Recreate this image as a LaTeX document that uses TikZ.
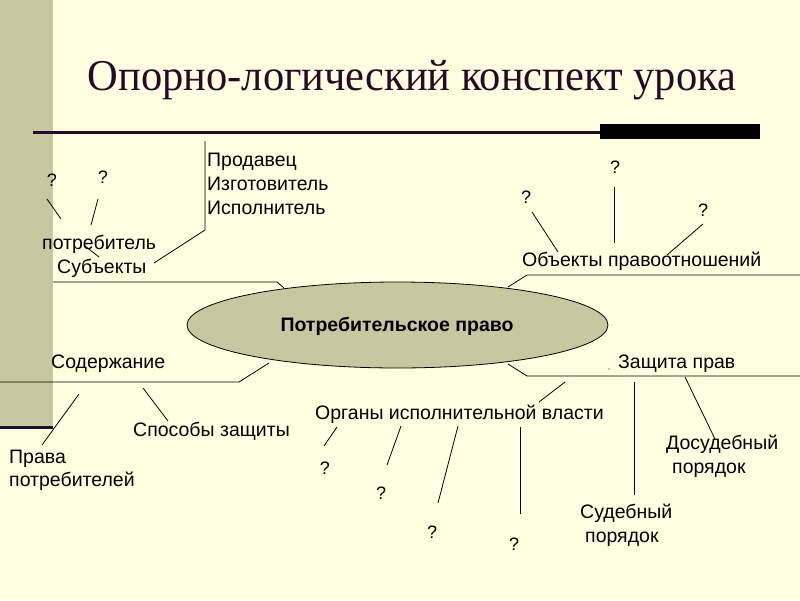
\documentclass[tikz,border=0pt]{standalone}
\usepackage{graphicx}
\usepackage{fontspec}
\setmainfont{Liberation Sans}
\newfontfamily\titlefont{Liberation Serif}
\usetikzlibrary{shapes.geometric}
\definecolor{bg}{RGB}{255,255,225}
\definecolor{bar}{RGB}{200,200,160}
\definecolor{dark}{RGB}{40,10,40}
\begin{document}
\begin{tikzpicture}[x=1pt,y=-1pt,
  lbl/.style={inner sep=0pt, anchor=base west, font=\fontsize{19.5}{22}\selectfont},
  qm/.style={inner sep=0pt, font=\fontsize{18}{20}\selectfont},
  ln/.style={line width=0.8pt, black}]
\fill[bg] (0,0) rectangle (800,600);
\useasboundingbox (0,0) rectangle (800,600);
\fill[bar] (0,0) rectangle (53,427);
\fill[dark] (0,425.5) rectangle (53,428.5);
% title
\node[font=\titlefont\fontsize{44}{50}\selectfont, text=dark, inner sep=0pt] (title) at (412,80) {\scalebox{0.966}[1]{Опорно-логический конспект урока}};
\coordinate (r1) at (33,132); \coordinate (r2) at (760,132);
\draw[dark, line width=3pt] (r1) -- (r2);
\fill[black] (600,124) rectangle (760,139);
% central ellipse
\node[ellipse, draw, line width=0.8pt, fill=bar, minimum width=421pt, minimum height=86pt, inner sep=0pt] (law) at (397.5,325) {};
\node[inner sep=0pt, font=\bfseries\fontsize{19.5}{22}\selectfont] (lawt) at (397,326) {Потребительское право};
% subjects
\node[lbl] (prod) at (207,166.5) {Продавец};
\node[lbl] (izg) at (207,190.5) {Изготовитель};
\node[lbl] (isp) at (207,214.5) {Исполнитель};
\node[lbl] (potr) at (42,249) {потребитель};
\node[lbl] (subj) at (57,273) {Субъекты};
\node[qm] (q1) at (52,180) {?};
\node[qm] (q2) at (103,177) {?};
\coordinate (a1) at (205,141); \coordinate (a2) at (205,230); \coordinate (a3) at (154,263);
\draw[ln] (a1) -- (a2) -- (a3);
\coordinate (b1) at (47,199); \coordinate (b2) at (61,219);
\draw[ln] (b1) -- (b2);
\coordinate (b3) at (98,199); \coordinate (b4) at (91,225);
\draw[ln] (b3) -- (b4);
\coordinate (b5) at (85,246); \coordinate (b6) at (99,257);
\draw[ln] (b5) -- (b6);
\coordinate (s1) at (53,282); \coordinate (s2) at (277,282); \coordinate (s3) at (284,288);
\draw[ln] (s1) -- (s2) -- (s3);
% objects
\node[lbl] (obj) at (522,266.5) {Объекты правоотношений};
\node[qm] (q3) at (526,197) {?};
\node[qm] (q4) at (615,167) {?};
\node[qm] (q5) at (703,210) {?};
\coordinate (o1) at (800,275); \coordinate (o2) at (527,275); \coordinate (o3) at (508,287);
\draw[ln] (o1) -- (o2) -- (o3);
\coordinate (c1) at (532,212); \coordinate (c2) at (558,252);
\draw[ln] (c1) -- (c2);
\coordinate (c3) at (614,187); \coordinate (c4) at (614,243);
\draw[ln] (c3) -- (c4);
\coordinate (c5) at (703,224); \coordinate (c6) at (667,255);
\draw[ln] (c5) -- (c6);
% content
\node[lbl] (sod) at (51,368) {Содержание};
\coordinate (d1) at (0,382); \coordinate (d2) at (239,382); \coordinate (d3) at (269,363);
\draw[ln] (d1) -- (d2) -- (d3);
\coordinate (e1) at (79,394); \coordinate (e2) at (42,445);
\draw[ln] (e1) -- (e2);
\node[lbl] (prava) at (9,463) {Права};
\node[lbl] (prava2) at (9,486.5) {потребителей};
\coordinate (e3) at (143,388); \coordinate (e4) at (168,421);
\draw[ln] (e3) -- (e4);
\node[lbl] (sposob) at (133,436.5) {Способы защиты};
% organs
\node[lbl] (org) at (315,419.5) {Органы исполнительной власти};
\coordinate (f1) at (539,402); \coordinate (f2) at (565,382);
\draw[ln] (f1) -- (f2);
\node[qm] (q6) at (325,468) {?};
\node[qm] (q7) at (381,493) {?};
\node[qm] (q8) at (432,532) {?};
\node[qm] (q9) at (514,544) {?};
\coordinate (g1) at (337,427); \coordinate (g2) at (324,446);
\draw[ln] (g1) -- (g2);
\coordinate (g3) at (401,426); \coordinate (g4) at (387,465);
\draw[ln] (g3) -- (g4);
\coordinate (g5) at (458,426); \coordinate (g6) at (438,503);
\draw[ln] (g5) -- (g6);
\coordinate (g7) at (520,427); \coordinate (g8) at (520,514);
\draw[ln] (g7) -- (g8);
% protection
\node[lbl] (zash) at (618,368.5) {Защита прав};
\fill (609,369) circle (0.6pt);
\coordinate (h1) at (800,376); \coordinate (h2) at (527,376); \coordinate (h3) at (508,364);
\draw[ln] (h1) -- (h2) -- (h3);
\coordinate (h4) at (634,382); \coordinate (h5) at (634,495);
\draw[ln] (h4) -- (h5);
\node[lbl] (sud) at (580,518) {Судебный};
\node[lbl] (sud2) at (585,542) {порядок};
\coordinate (h6) at (685,377); \coordinate (h7) at (715,439);
\draw[ln] (h6) -- (h7);
\node[lbl] (dosud) at (666,449) {Досудебный};
\node[lbl] (dosud2) at (672,473) {порядок};
\end{tikzpicture}
\end{document}
